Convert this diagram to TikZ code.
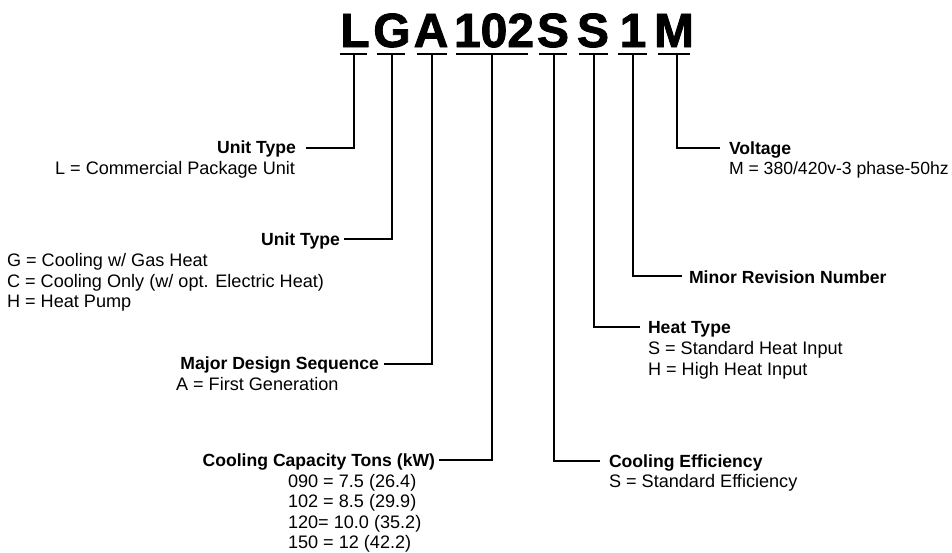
\documentclass[tikz,border=0pt]{standalone}
\usepackage{fontspec}
\setmainfont{Liberation Sans}
\newfontfamily\bigfont[FakeBold=1.8]{Liberation Sans Bold}
\begin{document}
\begin{tikzpicture}[x=1pt,y=-1pt,
  every node/.style={inner sep=0pt,outer sep=0pt},
  big/.style={font=\bigfont\fontsize{48}{48}\selectfont,anchor=base},
  head/.style={font=\fontsize{17.6}{20}\selectfont\bfseries},
  desc/.style={font=\fontsize{18.1}{20}\selectfont},
  descn/.style={font=\fontsize{17.6}{20}\selectfont},
  uline/.style={line width=2.4pt},
  conn/.style={line width=2pt}]
\useasboundingbox (0,0) rectangle (952,552);

% big code letters
\node[big] (cL) at (355,47) {L};
\node[big] (cG) at (392,47) {G};
\node[big] (cA) at (431,47) {A};
\node[big] (cN) at (494,47) {102};
\node[big] (cS1) at (553,47) {S};
\node[big] (cS2) at (593,47) {S};
\node[big] (c1) at (633,47) {1};
\node[big] (cM) at (674,47) {M};

% underlines
\foreach \a/\b/\n in {340/367/L,377/405/G,417/447/A,456/528/N,539/567/S1,579/608/S2,618/647/O,658/690/M}{
  \coordinate (ua\n) at (\a,54);
  \coordinate (ub\n) at (\b,54);
  \draw[uline] (ua\n) -- (ub\n);
}
% stem tops
\coordinate (sL) at (354,54);
\coordinate (sG) at (392,54);
\coordinate (sA) at (432,54);
\coordinate (sN) at (492,54);
\coordinate (sS1) at (554,54);
\coordinate (sS2) at (594,54);
\coordinate (sO) at (633,54);
\coordinate (sM) at (677,54);

% headings
\node[head,anchor=base east] (hU1) at (296,153) {Unit Type};
\node[head,anchor=base east] (hU2) at (340,245) {Unit Type};
\node[head,anchor=base east] (hMD) at (379,369) {Major Design Sequence};
\node[head,anchor=base east] (hCC) at (435,466) {Cooling Capacity Tons (kW)};
\node[head,anchor=base west] (hV) at (729,154) {Voltage};
\node[head,anchor=base west] (hR) at (689,283) {Minor Revision Number};
\node[head,anchor=base west] (hH) at (648,333) {Heat Type};
\node[head,anchor=base west] (hE) at (609,467) {Cooling Efficiency};

% descriptions
\node[desc,anchor=base east] (dU1) at (295,174) {L = Commercial Package Unit};
\node[desc,anchor=base west] (dU2a) at (7,266) {G = Cooling w/ Gas Heat};
\node[desc,anchor=base west] (dU2b) at (7,287) {C = Cooling Only (w/ opt. Electric Heat)};
\node[desc,anchor=base west] (dU2c) at (7,307) {H = Heat Pump};
\node[desc,anchor=base west] (dMD) at (176,390) {A = First Generation};
\node[desc,anchor=base west] (dC1) at (288,487) {090 = 7.5 (26.4)};
\node[desc,anchor=base west] (dC2) at (288,507) {102 = 8.5 (29.9)};
\node[desc,anchor=base west] (dC3) at (288,528) {120= 10.0 (35.2)};
\node[desc,anchor=base west] (dC4) at (288,548) {150 = 12 (42.2)};
\node[descn,anchor=base west] (dV) at (729,174) {M = 380/420v-3 phase-50hz};
\node[desc,anchor=base west] (dH1) at (648,354) {S = Standard Heat Input};
\node[desc,anchor=base west] (dH2) at (648,375) {H = High Heat Input};
\node[desc,anchor=base west] (dE) at (609,487) {S = Standard Efficiency};

% connectors
\draw[conn] (sL) |- ([xshift=10pt,yshift=5pt]hU1.base east);
\draw[conn] (sG) |- ([xshift=4pt,yshift=6pt]hU2.base east);
\draw[conn] (sA) |- ([xshift=5pt,yshift=5pt]hMD.base east);
\draw[conn] (sN) |- ([xshift=4pt,yshift=6pt]hCC.base east);
\draw[conn] (sS1) |- ([xshift=-9pt,yshift=6pt]hE.base west);
\draw[conn] (sS2) |- ([xshift=-8pt,yshift=6pt]hH.base west);
\draw[conn] (sO) |- ([xshift=-7pt,yshift=7pt]hR.base west);
\draw[conn] (sM) |- ([xshift=-9pt,yshift=6pt]hV.base west);
\end{tikzpicture}
\end{document}
